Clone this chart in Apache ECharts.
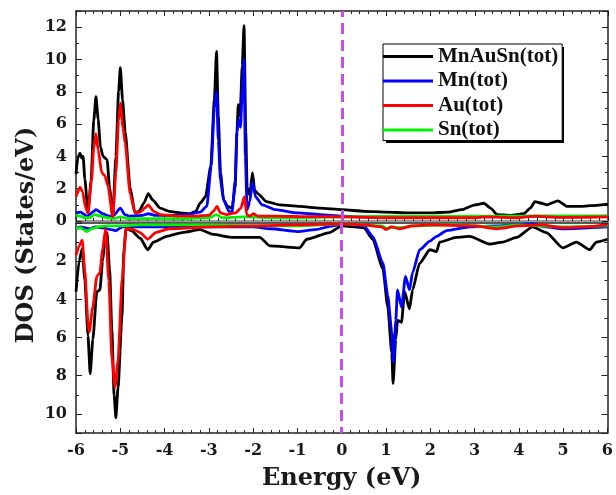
<!DOCTYPE html>
<html>
<head>
<meta charset="utf-8">
<script src="https://cdn.jsdelivr.net/npm/echarts@6/dist/echarts.min.js"></script>
<style>
  html, body { margin: 0; padding: 0; background: #fff; }
  #chart { width: 616px; height: 495px; }
</style>
</head>
<body>
<div id="chart"></div>
<script>
// spin-up DOS (upper panel), [energy eV, states/eV]
const upTotal = [[-6.0, 2.9], [-5.96, 3.9], [-5.91, 4.2], [-5.87, 3.9], [-5.84, 4.0], [-5.8, 2.6], [-5.73, 0.5], [-5.66, 2.5], [-5.6, 6.2], [-5.55, 7.7], [-5.5, 6.3], [-5.45, 4.6], [-5.39, 4.0], [-5.3, 3.8], [-5.24, 2.0], [-5.17, 0.3], [-5.1, 4.0], [-5.04, 8.0], [-5.0, 9.5], [-4.95, 7.5], [-4.89, 5.5], [-4.78, 2.1], [-4.67, 0.5], [-4.58, 0.6], [-4.47, 1.1], [-4.37, 1.7], [-4.27, 1.3], [-4.1, 0.8], [-3.9, 0.6], [-3.65, 0.5], [-3.43, 0.45], [-3.3, 0.6], [-3.2, 1.1], [-3.08, 1.5], [-2.96, 3.4], [-2.88, 7.5], [-2.83, 10.5], [-2.79, 6.5], [-2.74, 3.0], [-2.67, 1.3], [-2.58, 0.9], [-2.48, 0.8], [-2.41, 2.1], [-2.37, 5.5], [-2.34, 7.2], [-2.3, 6.5], [-2.25, 9.6], [-2.21, 12.1], [-2.17, 5.5], [-2.14, 2.1], [-2.08, 1.6], [-2.02, 3.0], [-1.97, 1.9], [-1.9, 1.7], [-1.7, 1.2], [-1.4, 1.0], [-0.95, 0.9], [-0.5, 0.8], [0, 0.7], [0.5, 0.6], [1.0, 0.55], [1.5, 0.5], [2.0, 0.5], [2.4, 0.55], [2.7, 0.7], [3.0, 1.0], [3.2, 1.1], [3.35, 0.8], [3.5, 0.4], [3.8, 0.35], [4.1, 0.45], [4.25, 0.8], [4.35, 1.2], [4.5, 1.1], [4.62, 1.0], [4.87, 1.25], [5.08, 0.9], [5.37, 0.9], [5.6, 0.95], [6.0, 1.05]];
const upMn = [[-6.0, 0.5], [-5.9, 0.55], [-5.75, 0.3], [-5.6, 0.6], [-5.55, 0.7], [-5.4, 0.45], [-5.25, 0.3], [-5.15, 0.35], [-5.0, 0.8], [-4.9, 0.4], [-4.8, 0.3], [-4.5, 0.35], [-4.37, 0.45], [-4.2, 0.35], [-3.8, 0.35], [-3.5, 0.4], [-3.2, 0.55], [-3.05, 0.9], [-2.95, 3.4], [-2.88, 7.0], [-2.83, 8.0], [-2.79, 5.0], [-2.74, 2.5], [-2.67, 1.3], [-2.55, 0.6], [-2.48, 0.55], [-2.41, 2.5], [-2.37, 5.5], [-2.33, 6.3], [-2.29, 5.8], [-2.25, 8.0], [-2.21, 10.0], [-2.18, 4.0], [-2.14, 0.7], [-2.08, 1.2], [-2.02, 2.4], [-1.95, 1.5], [-1.8, 1.0], [-1.5, 0.7], [-1.0, 0.5], [-0.5, 0.4], [0, 0.3], [0.5, 0.25], [1, 0.25], [2, 0.25], [3, 0.25], [4, 0.3], [5, 0.25], [6, 0.3]];
const upAu = [[-6.0, 1.5], [-5.91, 2.1], [-5.85, 1.8], [-5.78, 0.8], [-5.73, 0.5], [-5.65, 2.5], [-5.6, 4.5], [-5.55, 5.4], [-5.5, 4.4], [-5.42, 3.0], [-5.35, 2.8], [-5.28, 2.2], [-5.17, 0.25], [-5.1, 3.0], [-5.04, 6.2], [-5.0, 7.3], [-4.94, 5.8], [-4.89, 4.8], [-4.78, 1.7], [-4.67, 0.5], [-4.55, 0.55], [-4.45, 0.8], [-4.37, 1.0], [-4.25, 0.6], [-4.1, 0.4], [-3.7, 0.3], [-3.3, 0.3], [-3.0, 0.35], [-2.9, 0.6], [-2.82, 0.9], [-2.74, 0.5], [-2.6, 0.4], [-2.4, 0.5], [-2.28, 0.8], [-2.2, 1.5], [-2.15, 0.4], [-2.08, 0.3], [-2.0, 0.45], [-1.9, 0.3], [-1.5, 0.3], [-1, 0.28], [0, 0.25], [1, 0.2], [2, 0.2], [3, 0.2], [3.2, 0.25], [4, 0.2], [4.35, 0.3], [5, 0.22], [6, 0.25]];
const upSn = [[-6.0, 0.35], [-5.9, 0.3], [-5.8, 0.2], [-5.7, 0.2], [-5.58, 0.4], [-5.45, 0.3], [-5.3, 0.2], [-5.15, 0.15], [-5.0, 0.25], [-4.8, 0.15], [-4.4, 0.15], [-3.5, 0.15], [-3.0, 0.2], [-2.83, 0.4], [-2.7, 0.2], [-2.2, 0.25], [-1.5, 0.2], [-1, 0.2], [0, 0.25], [1, 0.28], [2, 0.28], [3, 0.3], [4, 0.3], [5, 0.32], [6, 0.32]];

// spin-down DOS (lower panel), plotted downward as positive magnitudes
const dnTotal = [[-6.0, 3.6], [-5.93, 2.0], [-5.86, 1.35], [-5.8, 3.0], [-5.73, 5.9], [-5.68, 7.9], [-5.62, 6.1], [-5.53, 3.6], [-5.46, 3.5], [-5.4, 2.0], [-5.35, 1.0], [-5.3, 0.5], [-5.24, 2.5], [-5.19, 5.6], [-5.14, 9.0], [-5.1, 10.2], [-5.05, 8.6], [-4.96, 4.8], [-4.92, 1.5], [-4.87, 0.3], [-4.75, 0.4], [-4.55, 0.8], [-4.38, 1.4], [-4.25, 1.0], [-3.95, 0.7], [-3.6, 0.5], [-3.2, 0.35], [-2.9, 0.6], [-2.5, 0.75], [-1.85, 0.75], [-1.62, 1.2], [-0.95, 1.3], [-0.79, 0.85], [-0.27, 0.5], [0, 0.15], [0.3, 0.2], [0.5, 0.25], [0.7, 0.85], [0.93, 2.4], [1.04, 4.4], [1.13, 6.8], [1.16, 8.4], [1.22, 6.1], [1.26, 5.1], [1.35, 5.2], [1.42, 3.6], [1.53, 4.5], [1.6, 3.5], [1.76, 2.1], [1.99, 1.4], [2.14, 1.5], [2.21, 1.0], [2.59, 0.75], [2.89, 0.7], [3.34, 1.1], [3.63, 1.0], [3.95, 0.75], [4.31, 0.2], [4.62, 0.5], [4.99, 1.3], [5.3, 1.0], [5.6, 1.4], [5.75, 1.0], [6.0, 0.85]];
const dnMn = [[-6.0, 0.3], [-5.9, 0.2], [-5.8, 0.25], [-5.7, 0.3], [-5.55, 0.2], [-5.4, 0.25], [-5.2, 0.35], [-5.1, 0.4], [-4.95, 0.2], [-4.5, 0.2], [-4.0, 0.2], [-3.0, 0.2], [-2.0, 0.2], [-1.6, 0.3], [-1.0, 0.45], [-0.6, 0.35], [-0.2, 0.15], [0, 0.05], [0.5, 0.15], [0.7, 0.7], [0.93, 2.1], [1.04, 3.8], [1.13, 5.7], [1.17, 7.3], [1.22, 5.1], [1.26, 3.5], [1.35, 4.4], [1.44, 2.8], [1.53, 3.5], [1.6, 2.6], [1.76, 1.4], [1.99, 0.95], [2.14, 0.7], [2.37, 0.4], [2.9, 0.2], [3.5, 0.15], [4.3, 0.05], [4.6, 0.2], [5.0, 0.3], [6.0, 0.2]];
const dnAu = [[-6.0, 1.7], [-5.93, 1.2], [-5.86, 0.9], [-5.8, 2.5], [-5.73, 5.2], [-5.7, 5.7], [-5.62, 4.4], [-5.53, 2.8], [-5.46, 2.6], [-5.4, 1.4], [-5.33, 0.3], [-5.26, 3.0], [-5.19, 7.0], [-5.12, 8.6], [-5.05, 7.2], [-4.96, 3.0], [-4.87, 0.3], [-4.7, 0.35], [-4.55, 0.5], [-4.38, 0.85], [-4.2, 0.5], [-3.9, 0.3], [-3.0, 0.2], [-2.0, 0.15], [-1.0, 0.1], [0, 0.05], [0.5, 0.1], [0.9, 0.2], [1.0, 0.35], [1.1, 0.2], [1.3, 0.3], [1.6, 0.15], [2.0, 0.1], [3.0, 0.15], [3.5, 0.3], [4.0, 0.15], [4.5, 0.1], [5.0, 0.25], [5.5, 0.2], [6.0, 0.1]];
const dnSn = [[-6.0, 0.3], [-5.9, 0.25], [-5.75, 0.45], [-5.65, 0.3], [-5.5, 0.2], [-5.3, 0.15], [-5.0, 0.15], [-4.5, 0.1], [-3.0, 0.1], [-2.0, 0.15], [-1.0, 0.15], [0, 0.05], [0.9, 0.15], [1.05, 0.3], [1.15, 0.2], [1.3, 0.25], [1.6, 0.15], [2.5, 0.1], [3.5, 0.2], [4.0, 0.1], [5.0, 0.2], [6.0, 0.15]];

const names = ['MnAuSn(tot)', 'Mn(tot)', 'Au(tot)', 'Sn(tot)'];
const colors = ['#000000', '#0000ff', '#ff0000', '#00ee00'];
const xTicks = [-6, 6, 1];

const serif = '"DejaVu Serif", serif';
const axisColor = '#222';

const chart = echarts.init(document.getElementById('chart'));

function xAx(grid, pos, opts) {
    return Object.assign({
        type: 'value', gridIndex: grid, position: pos,
        min: xTicks[0], max: xTicks[1], interval: xTicks[2],
        axisLine: { show: true, onZero: false, lineStyle: { color: axisColor, width: 1.5 } },
        axisTick: { show: true, inside: true, length: 5, lineStyle: { color: axisColor } },
        minorTick: { show: true, splitNumber: 5, length: 3, lineStyle: { color: axisColor } },
        axisLabel: { show: false },
        splitLine: { show: false }
    }, opts || {});
}

function yAx(grid, pos, max, opts) {
    return Object.assign({
        type: 'value', gridIndex: grid, position: pos,
        min: 0, max: max, interval: 2,
        axisLine: { show: true, onZero: false, lineStyle: { color: axisColor, width: 1.5 } },
        axisTick: { show: true, inside: true, length: 6, lineStyle: { color: axisColor } },
        minorTick: { show: true, splitNumber: 2, length: 3, lineStyle: { color: axisColor } },
        axisLabel: { show: false },
        splitLine: { show: false }
    }, opts || {});
}

const tickFont = { color: '#1a1a1a', fontFamily: serif, fontWeight: 'bold', fontSize: 16 };

const xAxes = [
    xAx(0, 'bottom', { axisLine: { show: true, onZero: false, lineStyle: { color: '#777', width: 1.5 } } }),
    xAx(0, 'top'),
    xAx(1, 'bottom', {
        axisLabel: Object.assign({ show: true, margin: 10 }, tickFont),
        name: 'Energy (eV)', nameLocation: 'middle', nameGap: 34,
        nameTextStyle: { color: '#1a1a1a', fontFamily: serif, fontWeight: 'bold', fontSize: 24 }
    }),
    xAx(1, 'top', { axisTick: { show: false }, minorTick: { show: false } })
];

const yAxes = [
    yAx(0, 'left', 13, { axisLabel: Object.assign({ show: true, margin: 9, showMaxLabel: false }, tickFont) }),
    yAx(0, 'right', 13),
    yAx(1, 'left', 11, { inverse: true, axisLabel: Object.assign({ show: true, margin: 9, showMaxLabel: false, showMinLabel: false }, tickFont) }),
    yAx(1, 'right', 11, { inverse: true })
];

const fermi = {
    silent: true, symbol: 'none', animation: false,
    label: { show: false },
    lineStyle: { color: '#c94cf0', type: [11, 6], width: 3 },
    data: [{ xAxis: 0 }]
};

const upData = [upTotal, upMn, upAu, upSn];
const dnData = [dnTotal, dnMn, dnAu, dnSn];
const drawOrder = [0, 1, 3, 2];

const series = [];
drawOrder.forEach(function (i) {
    series.push({
        name: names[i], type: 'line', xAxisIndex: 0, yAxisIndex: 0,
        data: upData[i], showSymbol: false, smooth: 0.2, smoothMonotone: 'x',
        lineStyle: { color: colors[i], width: 2.8 }, itemStyle: { color: colors[i] },
        markLine: i === 0 ? fermi : undefined
    });
    series.push({
        name: names[i], type: 'line', xAxisIndex: 2, yAxisIndex: 2,
        data: dnData[i], showSymbol: false, smooth: 0.2, smoothMonotone: 'x',
        lineStyle: { color: colors[i], width: 2.8 }, itemStyle: { color: colors[i] },
        markLine: i === 0 ? fermi : undefined
    });
});

const option = {
    backgroundColor: '#fff',
    animation: false,
    grid: [
        { left: 76, right: 8, top: 11, height: 210 },
        { left: 76, right: 8, top: 223, height: 210 }
    ],
    xAxis: xAxes,
    yAxis: yAxes,
    legend: {
        data: names,
        orient: 'vertical',
        left: 383, top: 44,
        icon: 'rect',
        itemWidth: 50, itemHeight: 3, itemGap: 3.5,
        padding: [2, 4, 0, 0],
        backgroundColor: '#fff',
        borderColor: '#000', borderWidth: 1,
        z: 10,
        textStyle: { color: '#111', fontFamily: '"Liberation Serif", serif', fontWeight: 'bold', fontSize: 21, lineHeight: 20 }
    },
    graphic: [
        {
            // drop shadow behind the legend box
            type: 'rect', z: 5,
            shape: { x: 386, y: 47, width: 178, height: 96 },
            style: { fill: '#000' }
        },
        {
            type: 'text',
            x: 27, y: 235,
            rotation: Math.PI / 2,
            style: {
                text: 'DOS (States/eV)',
                fill: '#1a1a1a',
                font: 'bold 24px "DejaVu Serif", serif',
                align: 'center',
                verticalAlign: 'middle'
            }
        }
    ],
    series: series
};

chart.setOption(option);
</script>
</body>
</html>
